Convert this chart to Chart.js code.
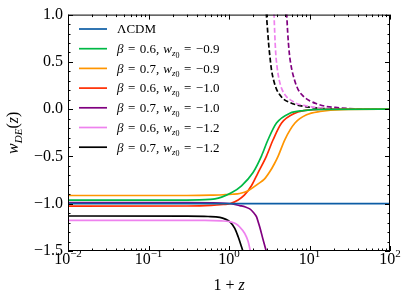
<!DOCTYPE html>
<html lang="en">
<head>
<meta charset="UTF-8">
<title>w_DE(z)</title>
<script src="https://cdn.jsdelivr.net/npm/chart.js"></script>
<style>
  body { margin: 0; background: #fff; }
  canvas { display: block; }
</style>
</head>
<body>
<canvas id="wdeChart" width="407" height="299"></canvas>
<script>
// values, x = 1+z
const lcdmX = [0.01, 100];
const lcdmY = [-1, -1];

const greenX = [0.01, 0.3, 0.43, 0.58, 0.67, 0.81, 1.07, 1.43, 1.99, 2.53, 3.06, 3.89, 5.7, 8.4, 15, 100];
const greenY = [-0.961, -0.961, -0.96, -0.955, -0.949, -0.93, -0.885, -0.81, -0.67, -0.496, -0.321, -0.147, -0.043, -0.015, -0.002, 0];

const orangeX = [0.01, 0.3, 0.6, 0.85, 1.1, 1.36, 1.73, 2.3, 2.75, 3.22, 3.65, 4.08, 4.95, 6.6, 9.2, 13.5, 25, 100];
const orangeY = [-0.913, -0.913, -0.91, -0.905, -0.9, -0.892, -0.862, -0.79, -0.74, -0.66, -0.58, -0.496, -0.321, -0.147, -0.06, -0.025, -0.004, 0];

const redX = [0.01, 0.3, 0.6, 0.85, 1.02, 1.3, 1.55, 1.9, 2.3, 2.92, 3.54, 4.5, 6.6, 10.1, 20, 100];
const redY = [-1.025, -1.024, -1.018, -1.008, -1.0, -0.96, -0.91, -0.81, -0.67, -0.496, -0.321, -0.147, -0.043, -0.008, -0.001, 0];

const purpleX = [0.01, 0.3, 0.6, 0.9, 1.1, 1.36, 1.6, 1.81, 2.0, 2.2, 2.3, 2.41, 2.66, 2.92];
const purpleY = [-0.988, -0.988, -0.99, -0.995, -1.003, -1.02, -1.035, -1.055, -1.09, -1.14, -1.19, -1.246, -1.385, -1.51];

const pinkX = [0.01, 0.5, 0.8, 1.02, 1.2, 1.36, 1.57, 1.73, 1.85];
const pinkY = [-1.176, -1.177, -1.182, -1.19, -1.21, -1.246, -1.315, -1.40, -1.51];

const blackX = [0.01, 0.3, 0.55, 0.77, 0.9, 1.02, 1.18, 1.3, 1.43, 1.5];
const blackY = [-1.13, -1.131, -1.135, -1.145, -1.163, -1.19, -1.26, -1.35, -1.455, -1.51];

// dashed branches coming down from +infinity
const blackDashX = [2.9, 3.0, 3.1, 3.2, 3.38, 3.6, 3.9, 4.3, 4.7, 5.7, 6.9, 9.2, 13, 20, 40, 100];
const blackDashY = [1.02, 0.86, 0.7, 0.58, 0.41, 0.3, 0.21, 0.15, 0.11, 0.07, 0.045, 0.025, 0.01, 0.003, 0, 0];

const pinkDashX = [3.62, 3.7, 3.8, 3.95, 4.2, 4.5, 5.2, 6.0, 6.9, 8.5, 12, 18, 30, 100];
const pinkDashY = [1.02, 0.8, 0.6, 0.45, 0.31, 0.22, 0.13, 0.09, 0.06, 0.04, 0.018, 0.006, 0.001, 0];

const purpleDashX = [5.2, 5.35, 5.6, 5.9, 6.5, 7.2, 8.3, 10, 12, 16, 21, 40, 100];
const purpleDashY = [1.02, 0.82, 0.6, 0.46, 0.31, 0.21, 0.14, 0.09, 0.06, 0.03, 0.018, 0.003, 0];

// legend
const legendBeta = ['0.6', '0.7', '0.6', '0.7', '0.6', '0.7'];
const legendW = ['−0.9', '−0.9', '−1.0', '−1.0', '−1.2', '−1.2'];
const lineColors = ['#0C5DA5', '#00B945', '#FF9500', '#FF2C00', '#800080', '#EE82EE', '#000000'];

// axes
const xMajor = [0.01, 0.1, 1, 10, 100];
const xExp = ['−2', '−1', '0', '1', '2'];
const yMin = -1.5, yMax = 1.0;

const SERIF = '"Liberation Serif", "DejaVu Serif", serif';

function pts(xs, ys) {
    return xs.map((x, i) => ({ x: x, y: ys[i] }));
}

function line(xs, ys, color, dashed) {
    return {
        data: pts(xs, ys),
        borderColor: color,
        borderWidth: 1.7,
        borderDash: dashed ? [5, 2.5] : [],
        pointRadius: 0,
        cubicInterpolationMode: 'monotone',
        fill: false
    };
}

// draws text pieces one after another: [text, font, dy, extra gap after]
function drawRich(ctx, parts, x, y) {
    let cx = x;
    parts.forEach(p => {
        ctx.font = p[1];
        ctx.fillText(p[0], cx, y + (p[2] || 0));
        cx += ctx.measureText(p[0]).width + (p[3] || 0);
    });
    return cx;
}

function richWidth(ctx, parts) {
    let w = 0;
    parts.forEach(p => { ctx.font = p[1]; w += ctx.measureText(p[0]).width + (p[3] || 0); });
    return w;
}

const decor = {
    id: 'decor',
    afterDatasetsDraw(chart) {
        const ctx = chart.ctx;
        const a = chart.chartArea;
        const xs = chart.scales.x, ys = chart.scales.y;
        ctx.save();
        ctx.strokeStyle = '#000';
        ctx.fillStyle = '#000';
        ctx.lineWidth = 1;

        // frame
        ctx.strokeRect(a.left + 0.5, a.top + 0.5, a.right - a.left - 1, a.bottom - a.top - 1);

        // inward ticks on all four sides
        ctx.beginPath();
        const xt = (v, len) => {
            const px = Math.round(xs.getPixelForValue(v)) + 0.5;
            ctx.moveTo(px, a.bottom); ctx.lineTo(px, a.bottom - len);
            ctx.moveTo(px, a.top); ctx.lineTo(px, a.top + len);
        };
        const yt = (v, len) => {
            const py = Math.round(ys.getPixelForValue(v)) + 0.5;
            ctx.moveTo(a.left, py); ctx.lineTo(a.left + len, py);
            ctx.moveTo(a.right, py); ctx.lineTo(a.right - len, py);
        };
        xMajor.forEach(v => xt(v, 5));
        for (let d = 0; d < xMajor.length - 1; d++) {
            for (let k = 2; k <= 9; k++) xt(xMajor[d] * k, 2.5);
        }
        for (let i = 0; i <= 25; i++) {
            const v = yMin + i * 0.1;
            yt(v, i % 5 === 0 ? 5 : 2.5);
        }
        ctx.stroke();

        // x tick labels 10^n
        ctx.textBaseline = 'alphabetic';
        ctx.textAlign = 'left';
        xMajor.forEach((v, i) => {
            const parts = [['10', '16px ' + SERIF, 0], [xExp[i], '11px ' + SERIF, -7]];
            const w = richWidth(ctx, parts);
            drawRich(ctx, parts, xs.getPixelForValue(v) - w / 2, 264);
        });

        // x title
        const xt1 = [['1', '16px ' + SERIF, 0, 4], ['+', '16px ' + SERIF, 0, 4], ['z', 'italic 16px ' + SERIF, 0]];
        drawRich(ctx, xt1, (a.left + a.right) / 2 - richWidth(ctx, xt1) / 2, 290);

        // y title, rotated
        const yt1 = [['w', 'italic 16px ' + SERIF, 0], ['DE', 'italic 11px ' + SERIF, 3.5],
                     ['(', '16px ' + SERIF, 0], ['z', 'italic 16px ' + SERIF, 0], [')', '16px ' + SERIF, 0]];
        ctx.save();
        ctx.translate(18, (a.top + a.bottom) / 2);
        ctx.rotate(-Math.PI / 2);
        drawRich(ctx, yt1, -richWidth(ctx, yt1) / 2, 0);
        ctx.restore();

        // legend
        const f = '13px ' + SERIF, fi = 'italic 13px ' + SERIF;
        for (let i = 0; i < 7; i++) {
            const ry = 29 + i * 19.7;
            ctx.strokeStyle = lineColors[i];
            ctx.lineWidth = 1.7;
            ctx.beginPath();
            ctx.moveTo(79, ry); ctx.lineTo(107, ry);
            ctx.stroke();
            ctx.fillStyle = '#000';
            let parts;
            if (i === 0) {
                parts = [['ΛCDM', f, 0]];
            } else {
                parts = [['β', fi, 0, 4.5],
                         ['=', f, 0, 4.5],
                         [legendBeta[i - 1] + ',', f, 0, 4],
                         ['w', fi, 0],
                         ['z', 'italic 9px ' + SERIF, 3],
                         ['0', '8px ' + SERIF, 4.5, 4.5],
                         ['=', f, 0, 4.5],
                         [legendW[i - 1], f, 0]];
            }
            drawRich(ctx, parts, 117, ry + 4.3);
        }
        ctx.restore();
    }
};

new Chart(document.getElementById('wdeChart'), {
    type: 'line',
    data: {
        datasets: [
            line(lcdmX, lcdmY, lineColors[0]),
            line(greenX, greenY, lineColors[1]),
            line(orangeX, orangeY, lineColors[2]),
            line(redX, redY, lineColors[3]),
            line(purpleX, purpleY, lineColors[4]),
            line(pinkX, pinkY, lineColors[5]),
            line(blackX, blackY, lineColors[6]),
            line(purpleDashX, purpleDashY, lineColors[4], true),
            line(pinkDashX, pinkDashY, lineColors[5], true),
            line(blackDashX, blackDashY, lineColors[6], true)
        ]
    },
    options: {
        responsive: false,
        devicePixelRatio: 1,
        animation: false,
        layout: { padding: { top: 11, right: 17, left: 0, bottom: 0 } },
        plugins: { legend: { display: false }, tooltip: { enabled: false } },
        scales: {
            x: {
                type: 'logarithmic',
                min: 0.01,
                max: 100,
                grid: { display: false, drawTicks: false },
                border: { display: false },
                ticks: { display: false },
                afterFit: s => { s.height = 48; }
            },
            y: {
                type: 'linear',
                min: yMin,
                max: yMax,
                grid: { display: false, drawTicks: false },
                border: { display: false },
                ticks: {
                    stepSize: 0.5,
                    padding: 5,
                    color: '#000',
                    font: { family: SERIF, size: 16 },
                    callback: v => (v < -1e-9 ? '−' : '') + Math.abs(v).toFixed(1)
                },
                afterFit: s => { s.width = 68; }
            }
        }
    },
    plugins: [decor]
});
</script>
</body>
</html>
